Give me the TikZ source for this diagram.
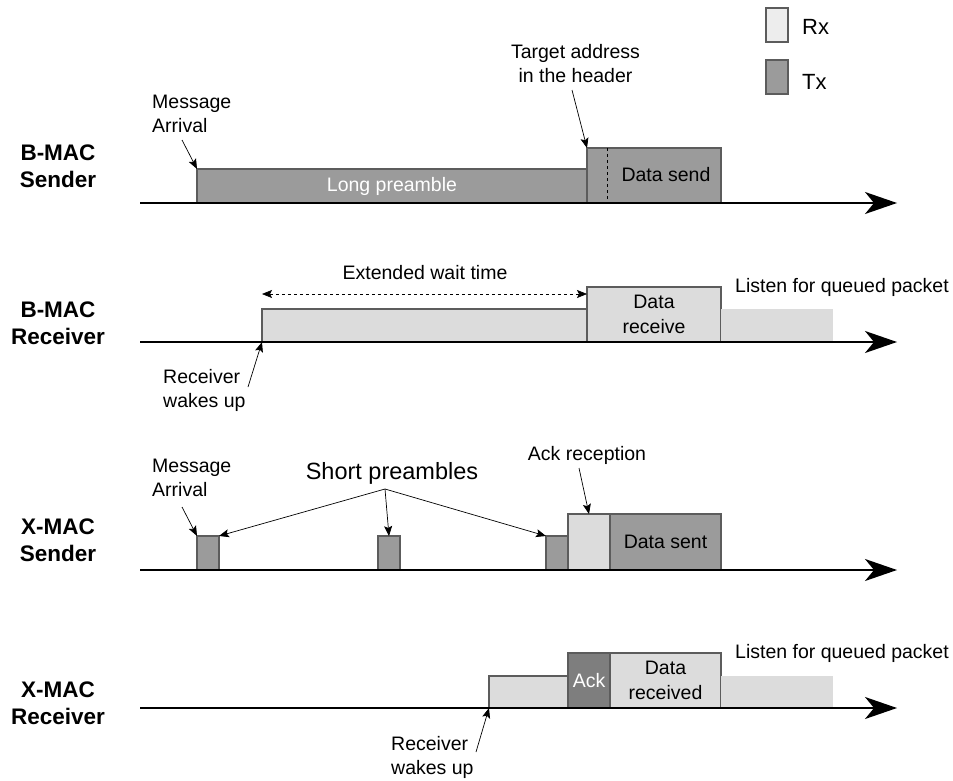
\documentclass[tikz,border=0pt]{standalone}
\usepackage{fontspec}
\setmainfont{Liberation Sans}
\usetikzlibrary{arrows.meta}

\definecolor{txfill}{HTML}{9B9B9B}
\definecolor{rxfill}{HTML}{DCDCDC}
\definecolor{rxlegend}{HTML}{EDEDED}
\definecolor{ackfill}{HTML}{7E7E7E}
\definecolor{edge}{HTML}{5C5C5C}

\tikzset{
  slot/.style={draw=edge, line width=1.1pt, inner sep=0pt, outer sep=0pt, anchor=south west,
    font=\fontsize{19.5}{25}\selectfont, align=center},
  tx/.style={slot, fill=txfill},
  rx/.style={slot, fill=rxfill},
  idle/.style={fill=rxfill, inner sep=0pt, outer sep=0pt, anchor=south west},
  axis/.style={line width=1.6pt, -{Stealth[length=32pt,width=22pt,inset=9pt]}},
  note/.style={line width=0.7pt, -{Stealth[length=10pt,width=8pt,inset=2pt]}},
  span/.style={line width=0.7pt, dashed, {Stealth[length=10pt,width=8pt,inset=2pt]}-{Stealth[length=10pt,width=8pt,inset=2pt]}},
  lbl/.style={font=\fontsize{19.5}{24}\selectfont, align=center, inner sep=0pt},
  lbll/.style={lbl, align=left},
  side/.style={font=\fontsize{22.5}{27}\selectfont\bfseries, align=center, inner sep=0pt},
  key/.style={font=\fontsize{22}{26}\selectfont, inner sep=0pt, anchor=west},
}

\begin{document}
\begin{tikzpicture}[x={(1pt,0)}, y={(0,-1pt)}]
\useasboundingbox (0,0) rectangle (953,781);

% ---------------- legend
\node[slot, fill=rxlegend, minimum width=22pt, minimum height=34pt] (keyrx) at (766,42) {};
\node[slot, fill=txfill, minimum width=22pt, minimum height=34pt] (keytx) at (766,94) {};
\node[key] (keyrxt) at (802,27) {Rx};
\node[key] (keytxt) at (802,82) {Tx};

% ---------------- row labels
\node[side] (lab1) at (58,166) {B-MAC\\Sender};
\node[side] (lab2) at (58,323) {B-MAC\\Receiver};
\node[side] (lab3) at (58,540) {X-MAC\\Sender};
\node[side] (lab4) at (58,703) {X-MAC\\Receiver};

% ---------------- B-MAC sender
\node[tx, minimum width=390pt, minimum height=34pt, text=white] (lp) at (197,203) {Long preamble};
\node[tx, minimum width=134pt, minimum height=55pt] (ds) at (587,203) {};
\draw[dashed, line width=0.7pt] ([xshift=20pt]ds.north west) -- ([xshift=20pt]ds.south west);
\node[lbl] (dst) at (666,175) {Data send};
\coordinate (a1s) at (140,203);
\coordinate (a1e) at (897,203);
\draw[axis] (a1s) -- (a1e);

\node[lbll, anchor=west] (ma1) at (152,113.5) {Message\\Arrival};
\coordinate (ma1p) at (182,140);
\draw[note] (ma1p) -- (lp.north west);

\node[lbl] (ta) at (575.5,63.5) {Target address\\in the header};
\coordinate (tap) at (572,90);
\draw[note] (tap) -- (ds.north west);

% ---------------- B-MAC receiver
\node[rx, minimum width=325pt, minimum height=33pt] (wr) at (262,342) {};
\node[rx, minimum width=134pt, minimum height=55pt] (dr) at (587,342) {Data\\receive};
\node[idle, minimum width=112pt, minimum height=33pt] (lq1) at (721,342) {};
\node[lbl, anchor=west] (lq1t) at (735,287) {Listen for queued packet};
\coordinate (a2s) at (140,342);
\coordinate (a2e) at (897,342);
\draw[axis] (a2s) -- (a2e);

\draw[span] ([yshift=15pt]wr.north west) -- ([yshift=15pt]wr.north east);
\node[lbl] (ewt) at (425,273) {Extended wait time};

\node[lbll, anchor=west] (wu1) at (163,390.5) {Receiver\\wakes up};
\coordinate (wu1p) at (248,387);
\draw[note] (wu1p) -- (wr.south west);

% ---------------- X-MAC sender
\node[tx, minimum width=22pt, minimum height=34pt] (sp1) at (197,570) {};
\node[tx, minimum width=22pt, minimum height=34pt] (sp2) at (378,570) {};
\node[tx, minimum width=22pt, minimum height=34pt] (sp3) at (546,570) {};
\node[rx, minimum width=42pt, minimum height=56pt] (ar) at (568,570) {};
\node[tx, minimum width=111pt, minimum height=56pt] (dsn) at (610,570) {Data sent};
\coordinate (a3s) at (140,570);
\coordinate (a3e) at (897,570);
\draw[axis] (a3s) -- (a3e);

\node[lbl, font=\fontsize{23.5}{28}\selectfont] (spt) at (392,473) {Short preambles};
\coordinate (spp) at (385,489);
\draw[note] (spp) -- (sp1.north east);
\draw[note] (spp) -- (sp2.north);
\draw[note] (spp) -- (sp3.north west);

\node[lbll, anchor=west] (ma2) at (152,477.5) {Message\\Arrival};
\coordinate (ma2p) at (182,507);
\draw[note] (ma2p) -- (sp1.north west);

\node[lbl] (art) at (587,455) {Ack reception};
\coordinate (arp) at (579,468);
\draw[note] (arp) -- (ar.north);

% ---------------- X-MAC receiver
\node[rx, minimum width=79pt, minimum height=32pt] (xw) at (489,708) {};
\node[slot, fill=ackfill, text=white, minimum width=42pt, minimum height=55pt] (ack) at (568,708) {Ack};
\node[rx, minimum width=111pt, minimum height=55pt] (drc) at (610,708) {Data\\received};
\node[idle, minimum width=112pt, minimum height=32pt] (lq2) at (721,708) {};
\node[lbl, anchor=west] (lq2t) at (735,653) {Listen for queued packet};
\coordinate (a4s) at (140,708);
\coordinate (a4e) at (897,708);
\draw[axis] (a4s) -- (a4e);

\node[lbll, anchor=west] (wu2) at (391,757.5) {Receiver\\wakes up};
\coordinate (wu2p) at (476,752);
\draw[note] (wu2p) -- (xw.south west);

\end{tikzpicture}
\end{document}
